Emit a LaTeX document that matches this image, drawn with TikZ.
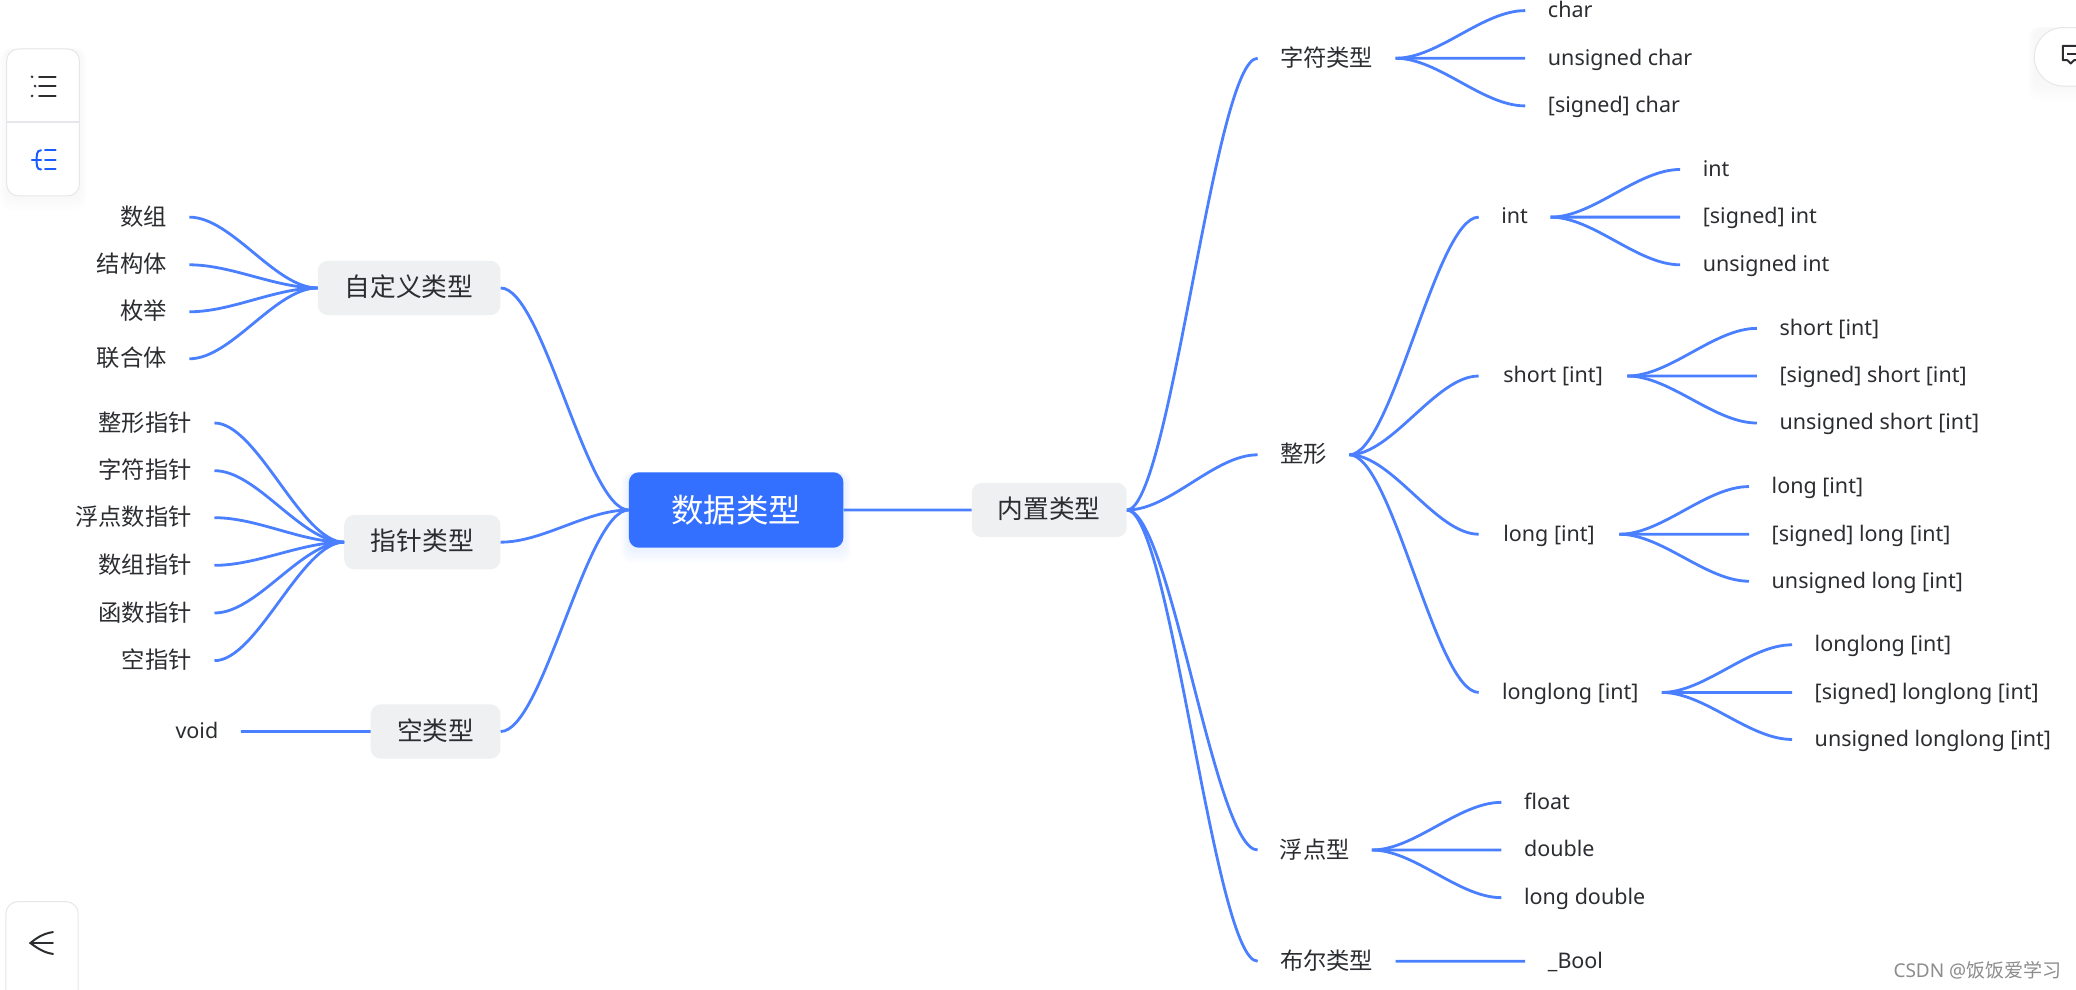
\documentclass[tikz,border=0pt]{standalone}
\usepackage{fontspec}
\setmainfont{Noto Sans}
\newfontfamily\cjk{Noto Sans CJK SC}
\usetikzlibrary{calc}
\definecolor{linkc}{HTML}{4A80FF}
\definecolor{rootc}{HTML}{3370FF}
\definecolor{boxc}{HTML}{EFF0F2}
\definecolor{inkc}{HTML}{2B2D31}
\definecolor{bluei}{HTML}{1A5CFF}
\definecolor{edgec}{HTML}{E6E7EA}
\definecolor{markc}{HTML}{8C8C8C}
\tikzset{
  x=1.324pt,y=-1.324pt,
  conn/.style={draw=linkc,line width=2.8pt,to path={.. controls ($(\tikztostart)!.33!(\tikztotarget |- \tikztostart)$) and ($(\tikztotarget)!.33!(\tikztostart |- \tikztotarget)$) .. (\tikztotarget)}},
  base/.style={text=inkc,inner ysep=0pt},
  latin/.style={base,text height=18pt,text depth=4.4pt,font=\fontsize{21.5pt}{24pt}\selectfont},
  han/.style={base,text height=19pt,text depth=3pt,font=\cjk\fontsize{23.3pt}{28pt}\selectfont},
  rleaf/.style={latin,anchor=west,inner xsep=17*1.324pt},
  lleaf/.style={han,anchor=east,inner xsep=17*1.324pt},
  mid/.style={inner xsep=0pt,minimum width=#1*1.324pt},
  topic/.style={base,text height=20pt,text depth=3pt,font=\cjk\fontsize{25.7pt}{30pt}\selectfont,fill=boxc,rounded corners=10pt,inner sep=0pt,minimum height=41*1.324pt,minimum width=#1*1.324pt},
  rootn/.style={fill=rootc,text=white,font=\cjk\fontsize{32.5pt}{36pt}\selectfont,rounded corners=10pt,inner sep=0pt,minimum width=162*1.324pt,minimum height=57*1.324pt},
  panel/.style={fill=white,draw=edgec,line width=1pt},
  icon/.style={draw=inkc,line width=2pt,line cap=round},
  iconb/.style={draw=bluei,line width=2pt,line cap=round},
}
\newcommand{\softshade}[6]{%
  \foreach \s in {1,2,...,7}{%
    \fill[#5,opacity=#6,rounded corners=10pt] ($(#1,#2)+(-\s*0.8,-\s*0.1)$) rectangle ($(#3,#4)+(\s*0.8,\s*1.6)$);
  }}
\begin{document}
\begin{tikzpicture}
\useasboundingbox (0,0) rectangle (1568,747.73);
\clip (0,0) rectangle (1568,747.73);
\fill[white] (0,0) rectangle (1568,747.73);

% interface panels
\softshade{5}{37}{60}{148}{black}{0.004}
\filldraw[panel,rounded corners=12pt] (5,37) rectangle (60,148);
\draw[edgec,line width=1.5pt] (5,92) -- (60,92);
\draw[icon] (29.5,58) -- (42,58) (29.5,65) -- (42,65) (29.5,72.5) -- (42,72.5);
\fill[inkc] (24.2,58) circle (1.1) (26.5,65) circle (1.1) (24.2,72.5) circle (1.1);
\draw[iconb] (34,113.5) -- (42,113.5) (34,121) -- (42,121) (34,128) -- (42,128);
\draw[iconb] (31,113.5) .. controls (27.5,113.5) and (28,117) .. (27.5,121) .. controls (28,125) and (27.5,128) .. (31,128);
\draw[iconb] (24,121) -- (31,121);

\filldraw[panel,rounded corners=12pt] (4.5,681) rectangle (59,770);
\draw[icon] (40,704) .. controls (33,705) and (28,708) .. (23,712.3) .. controls (28,716) and (33,719.5) .. (40,720.5);
\draw[icon] (23,712.3) -- (40,712.3);

\softshade{1537}{21}{1600}{65}{black}{0.004}
\filldraw[panel,rounded corners=29pt] (1536.5,20.8) rectangle (1620,65);
\draw[icon,line cap=butt,line join=round] (1572,34.7) -- (1558,34.7) -- (1558,45.5) -- (1561.5,45.5) -- (1564,48) -- (1566.5,45.5) -- (1572,45.5);
\draw[icon,line cap=butt] (1561,40.5) -- (1572,40.5);

% root and main topics
\softshade{475}{357}{637}{414}{rootc}{0.01}
\node[rootn] (root) at (556,385.2) {数据类型};
\node[topic=117] (builtin) at (792.5,385.2) {内置类型};
\node[topic=138] (custom) at (309,217.5) {自定义类型};
\node[topic=118] (pointer) at (319,409.5) {指针类型};
\node[topic=98] (voidtype) at (329,552.5) {空类型};

% left leaves
\node[lleaf] (shuzu) at (143,164) {数组};
\node[lleaf] (jiegou) at (143,200) {结构体};
\node[lleaf] (meiju) at (143,235.5) {枚举};
\node[lleaf] (lianhe) at (143,271) {联合体};
\node[lleaf] (pint) at (162,319.5) {整形指针};
\node[lleaf] (pchar) at (162,355.5) {字符指针};
\node[lleaf] (pfloat) at (162,391) {浮点数指针};
\node[lleaf] (parr) at (162,427) {数组指针};
\node[lleaf] (pfun) at (162,463) {函数指针};
\node[lleaf] (pnull) at (162,499) {空指针};
\node[latin,anchor=east,inner xsep=17*1.324pt] (voidleaf) at (182,552.5) {void};

% right branches
\node[han,mid=104] (chartype) at (1002,44) {字符类型};
\node[han,mid=69] (inttype) at (984.5,343.5) {整形};
\node[han,mid=86] (floattype) at (993,642) {浮点型};
\node[han,mid=104] (booltype) at (1002,726) {布尔类型};
\node[latin,mid=54] (intn) at (1144,164) {int};
\node[latin,mid=112] (shortn) at (1173,284) {short [int]};
\node[latin,mid=106] (longn) at (1170,403.5) {long [int]};
\node[latin,mid=138] (llongn) at (1186,523) {longlong [int]};

% right leaves
\node[rleaf] (c1) at (1152,8) {char};
\node[rleaf] (c2) at (1152,44) {unsigned char};
\node[rleaf] (c3) at (1152,80) {[signed] char};
\node[rleaf] (i1) at (1269,128) {int};
\node[rleaf] (i2) at (1269,164) {[signed] int};
\node[rleaf] (i3) at (1269,200) {unsigned int};
\node[rleaf] (s1) at (1327,248) {short [int]};
\node[rleaf] (s2) at (1327,284) {[signed] short [int]};
\node[rleaf] (s3) at (1327,319.5) {unsigned short [int]};
\node[rleaf] (l1) at (1321,367.5) {long [int]};
\node[rleaf] (l2) at (1321,403.5) {[signed] long [int]};
\node[rleaf] (l3) at (1321,439) {unsigned long [int]};
\node[rleaf] (q1) at (1353.5,487) {longlong [int]};
\node[rleaf] (q2) at (1353.5,523) {[signed] longlong [int]};
\node[rleaf] (q3) at (1353.5,558.5) {unsigned longlong [int]};
\node[rleaf] (f1) at (1134,606) {float};
\node[rleaf] (f2) at (1134,642) {double};
\node[rleaf] (f3) at (1134,678) {long double};
\node[rleaf] (b1) at (1152,726) {\_Bool};

% connectors
\foreach \a/\b in {root.east/builtin.west,
  builtin.east/chartype.west,builtin.east/inttype.west,builtin.east/floattype.west,builtin.east/booltype.west,
  chartype.east/c1.west,chartype.east/c2.west,chartype.east/c3.west,
  inttype.east/intn.west,inttype.east/shortn.west,inttype.east/longn.west,inttype.east/llongn.west,
  intn.east/i1.west,intn.east/i2.west,intn.east/i3.west,
  shortn.east/s1.west,shortn.east/s2.west,shortn.east/s3.west,
  longn.east/l1.west,longn.east/l2.west,longn.east/l3.west,
  llongn.east/q1.west,llongn.east/q2.west,llongn.east/q3.west,
  floattype.east/f1.west,floattype.east/f2.west,floattype.east/f3.west,
  booltype.east/b1.west,
  root.west/custom.east,root.west/pointer.east,root.west/voidtype.east,
  custom.west/shuzu.east,custom.west/jiegou.east,custom.west/meiju.east,custom.west/lianhe.east,
  pointer.west/pint.east,pointer.west/pchar.east,pointer.west/pfloat.east,pointer.west/parr.east,pointer.west/pfun.east,pointer.west/pnull.east,
  voidtype.west/voidleaf.east}{
  \draw[conn] (\a) to (\b);
}

% watermark
\node[text=markc,inner sep=0pt,font=\fontsize{19pt}{22pt}\selectfont] (mark) at (1493.5,733) {CSDN @{\cjk 饭饭爱学习}};
\end{tikzpicture}
\end{document}
